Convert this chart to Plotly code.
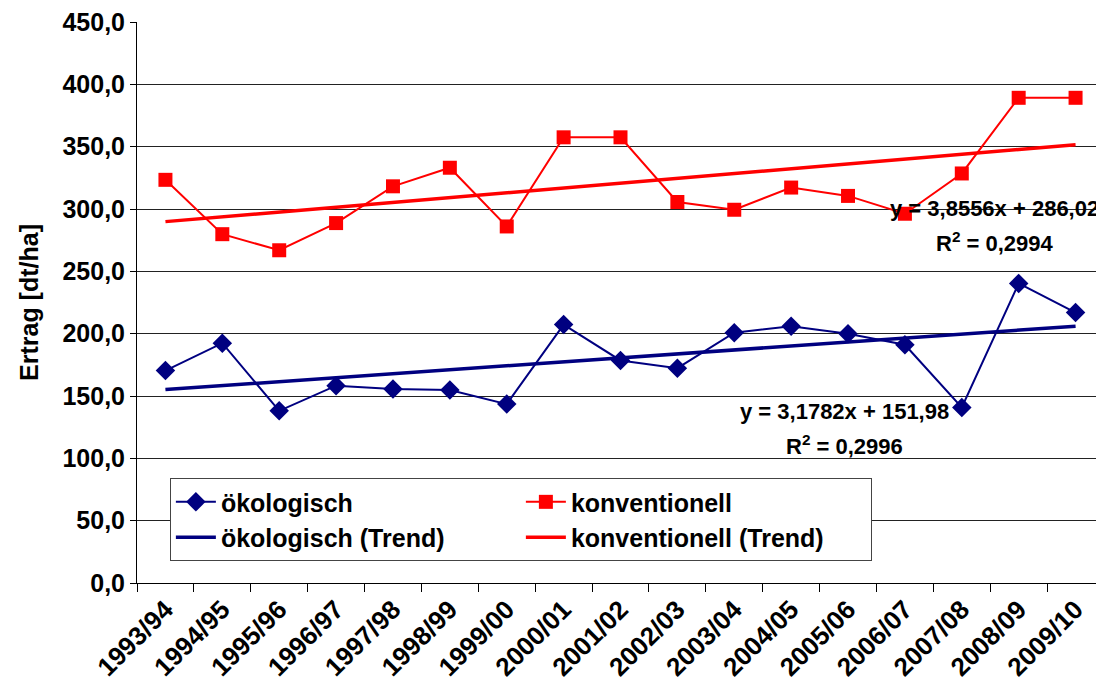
import plotly.graph_objects as go

seasons = ["1993/94", "1994/95", "1995/96", "1996/97", "1997/98", "1998/99", "1999/00",
           "2000/01", "2001/02", "2002/03", "2003/04", "2004/05", "2005/06", "2006/07",
           "2007/08", "2008/09", "2009/10"]
oekologisch = [170.4, 192.4, 138.1, 158.3, 155.6, 154.8, 143.5, 207.3, 178.5,
               172.3, 200.8, 205.9, 200.0, 191.1, 140.8, 240.3, 216.9]
konventionell = [323.4, 279.8, 266.9, 288.7, 318.2, 333.1, 286.0, 357.5, 357.5,
                 305.6, 299.4, 317.2, 310.5, 296.2, 328.5, 389.2, 389.2]
# trend line coefficients as printed in the chart (x = 1..n)
oeko_slope, oeko_intercept, oeko_r2 = 3.1782, 151.98, "0,2996"
konv_slope, konv_intercept, konv_r2 = 3.8556, 286.02, "0,2994"

n = len(seasons)
oeko_trend = [oeko_slope * (i + 1) + oeko_intercept for i in range(n)]
konv_trend = [konv_slope * (i + 1) + konv_intercept for i in range(n)]

BLUE = "#000080"
RED = "#FF0000"
FONT = "Liberation Sans, Arial, sans-serif"

fig = go.Figure()
fig.add_trace(go.Scatter(x=seasons, y=oekologisch, name="ökologisch", mode="lines+markers",
                         line=dict(color=BLUE, width=2),
                         marker=dict(symbol="diamond", size=15, color=BLUE)))
fig.add_trace(go.Scatter(x=seasons, y=konventionell, name="konventionell", mode="lines+markers",
                         line=dict(color=RED, width=2),
                         marker=dict(symbol="square", size=14, color=RED)))
fig.add_trace(go.Scatter(x=seasons, y=oeko_trend, name="ökologisch (Trend)", mode="lines",
                         line=dict(color=BLUE, width=3.5)))
fig.add_trace(go.Scatter(x=seasons, y=konv_trend, name="konventionell (Trend)", mode="lines",
                         line=dict(color=RED, width=3.5)))

ann_font = dict(family=FONT, size=22, color="black", weight="bold")
annotations = [
    dict(x=0.887, y=0.667, text="y = 3,8556x + 286,02"),
    dict(x=0.887, y=0.608, text="R<sup>2</sup> = " + konv_r2),
    dict(x=0.732, y=0.305, text="y = 3,1782x + 151,98"),
    dict(x=0.732, y=0.246, text="R<sup>2</sup> = " + oeko_r2),
]
for a in annotations:
    a.update(xref="paper", yref="paper", showarrow=False, font=ann_font,
             xanchor="center", yanchor="middle")

fig.update_layout(
    width=1096, height=682,
    margin=dict(l=129, r=0, t=14, b=107),
    paper_bgcolor="white", plot_bgcolor="white",
    separators=",.",
    font=dict(family=FONT, size=22, color="black", weight="bold"),
    showlegend=True,
    legend=dict(orientation="h", x=0.034, y=0.187, xanchor="left", yanchor="top",
                bgcolor="white", bordercolor="#444444", borderwidth=1,
                entrywidth=295, font=dict(family=FONT, size=25, color="black", weight="bold"),
                itemwidth=40),
    annotations=annotations,
    xaxis=dict(type="category", range=[-0.5, n - 0.5], tickangle=-45,
               showline=True, linecolor="black", linewidth=1,
               ticks="outside", ticklen=8, tickcolor="black", tickson="boundaries",
               showgrid=False, tickfont=dict(size=26)),
    yaxis=dict(range=[0, 450], dtick=50, tickformat=".1f",
               showline=True, linecolor="black", linewidth=1,
               ticks="outside", ticklen=6, tickcolor="black",
               showgrid=True, gridcolor="#222222", gridwidth=1,
               zeroline=False, tickfont=dict(size=25), ticklabeloverflow="allow",
               title=dict(text="Ertrag [dt/ha]", font=dict(size=25), standoff=16)),
)

fig.write_html("out.html")
